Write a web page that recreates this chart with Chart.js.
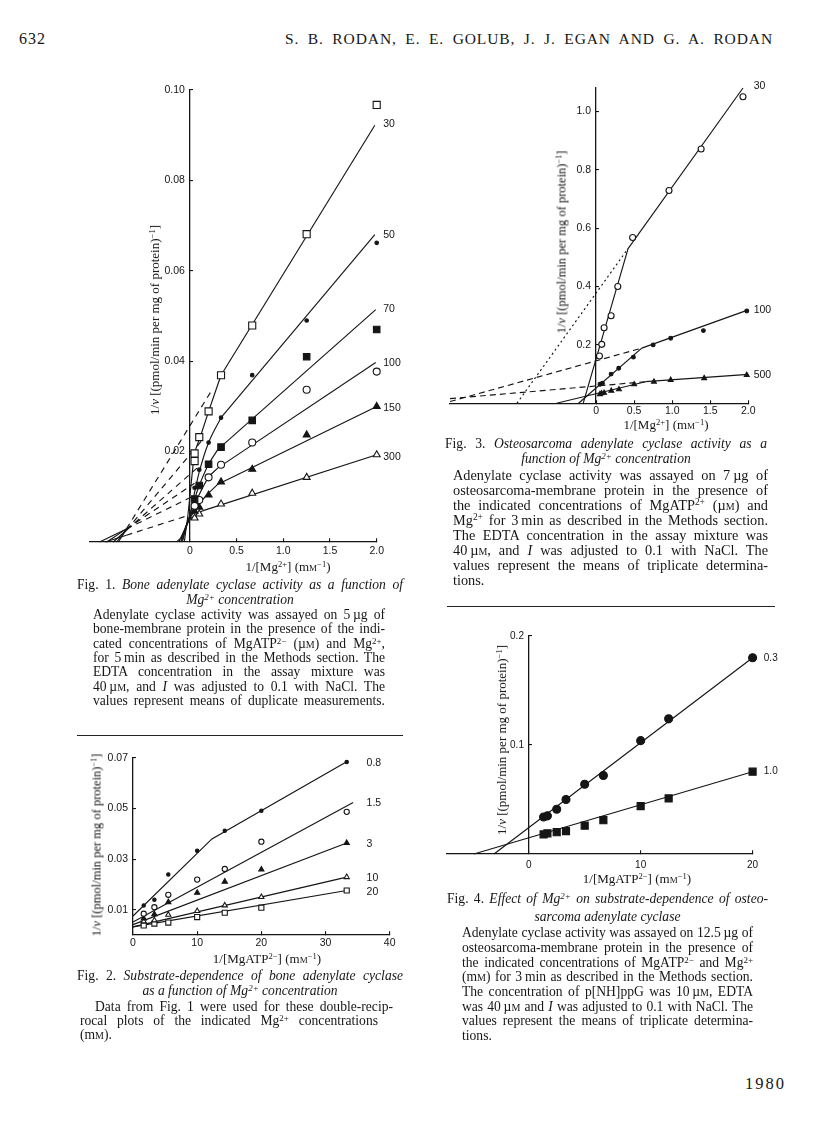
<!DOCTYPE html>
<html>
<head>
<meta charset="utf-8">
<title>Rodan et al. 1980, p. 632</title>
<script src="https://cdn.jsdelivr.net/npm/chart.js@4.4.1/dist/chart.umd.min.js"></script>
<style>
html, body { margin: 0; padding: 0; background: #fff; }
body { width: 816px; height: 1136px; position: relative; overflow: hidden;
       font-family: "Liberation Serif", "Times New Roman", serif; color: #161616; }
.t  { position: absolute; white-space: nowrap; font-size: 13.6px; line-height: 15px; }
.j  { text-align: justify; text-align-last: justify; }
.c  { text-align: center; }
.sp { font-size: 0.66em; position: relative; top: -0.5em; }
.sc { font-variant: small-caps; }
.yl { position: absolute; white-space: nowrap; font-size: 13px; color: #111; transform: translate(-50%, -50%) rotate(-90deg); }
.xl { position: absolute; white-space: nowrap; font-size: 13px; transform: translate(-50%, -50%); }
.rule { position: absolute; height: 0; border-top: 1.3px solid #222; }
.big { font-size: 14.3px; }
canvas { position: absolute; }
</style>
</head>
<body>

<!-- ── PAGE HEADER ─────────────────────────────────────────────────────── -->
<div class="t" style="left:19px;top:31px;font-size:16px;letter-spacing:1px">632</div>
<div class="t j" style="left:285px;top:31px;width:488px;font-size:15.5px;letter-spacing:0.9px">S. B. RODAN, E. E. GOLUB, J. J. EGAN AND G. A. RODAN</div>

<!-- ── FIG 1 ───────────────────────────────────────────────────────────── -->
<canvas id="fig1"></canvas>
<div class="yl" style="left:155px;top:320px">1/<i>v</i> [(pmol/min per mg of protein)<span class="sp">−1</span>]</div>
<div class="xl" style="left:288px;top:567px">1/[Mg<span class="sp">2+</span>] (m<span class="sc">m</span><span class="sp">−1</span>)</div>
<div class="t j" style="left:77px;top:577px;width:326px">Fig. 1. <i>Bone adenylate cyclase activity as a function of</i></div>
<div class="t c" style="left:77px;top:592px;width:326px"><i>Mg<span class="sp">2+</span> concentration</i></div>
<div class="t j" style="left:93px;top:607px;width:292px">Adenylate cyclase activity was assayed on 5&thinsp;µg of</div>
<div class="t j" style="left:93px;top:621px;width:292px">bone-membrane protein in the presence of the indi-</div>
<div class="t j" style="left:93px;top:636px;width:292px">cated concentrations of MgATP<span class="sp">2−</span> (µ<span class="sc">m</span>) and Mg<span class="sp">2+</span>,</div>
<div class="t j" style="left:93px;top:650px;width:292px">for 5&thinsp;min as described in the Methods section. The</div>
<div class="t j" style="left:93px;top:664px;width:292px">EDTA concentration in the assay mixture was</div>
<div class="t j" style="left:93px;top:679px;width:292px">40&thinsp;µ<span class="sc">m</span>, and <i>I</i> was adjusted to 0.1 with NaCl. The</div>
<div class="t j" style="left:93px;top:693px;width:292px">values represent means of duplicate measurements.</div>
<div class="rule" style="left:77px;top:735px;width:326px"></div>

<!-- ── FIG 2 ───────────────────────────────────────────────────────────── -->
<canvas id="fig2"></canvas>
<div class="yl" style="left:97px;top:845px;font-size:12.5px">1/<i>v</i> [(pmol/min per mg of protein)<span class="sp">−1</span>]</div>
<div class="xl" style="left:267px;top:959px">1/[MgATP<span class="sp">2−</span>] (m<span class="sc">m</span><span class="sp">−1</span>)</div>
<div class="t j" style="left:77px;top:968px;width:326px">Fig. 2. <i>Substrate-dependence of bone adenylate cyclase</i></div>
<div class="t c" style="left:77px;top:983px;width:326px"><i>as a function of Mg<span class="sp">2+</span> concentration</i></div>
<div class="t j" style="left:95px;top:999px;width:298px">Data from Fig. 1 were used for these double-recip-</div>
<div class="t j" style="left:80px;top:1013px;width:298px">rocal plots of the indicated Mg<span class="sp">2+</span> concentrations</div>
<div class="t" style="left:80px;top:1027px">(m<span class="sc">m</span>).</div>

<!-- ── FIG 3 ───────────────────────────────────────────────────────────── -->
<canvas id="fig3"></canvas>
<div class="yl" style="left:562px;top:242px;font-size:12.5px">1/<i>v</i> [(pmol/min per mg of protein)<span class="sp">−1</span>]</div>
<div class="xl" style="left:666px;top:425px">1/[Mg<span class="sp">2+</span>] (m<span class="sc">m</span><span class="sp">−1</span>)</div>
<div class="t j" style="left:445px;top:436px;width:322px">Fig. 3. <i>Osteosarcoma adenylate cyclase activity as a</i></div>
<div class="t c" style="left:445px;top:451px;width:322px"><i>function of Mg<span class="sp">2+</span> concentration</i></div>
<div class="t j big" style="left:453px;top:468px;width:315px">Adenylate cyclase activity was assayed on 7&thinsp;µg of</div>
<div class="t j big" style="left:453px;top:483px;width:315px">osteosarcoma-membrane protein in the presence of</div>
<div class="t j big" style="left:453px;top:498px;width:315px">the indicated concentrations of MgATP<span class="sp">2+</span> (µ<span class="sc">m</span>) and</div>
<div class="t j big" style="left:453px;top:513px;width:315px">Mg<span class="sp">2+</span> for 3&thinsp;min as described in the Methods section.</div>
<div class="t j big" style="left:453px;top:528px;width:315px">The EDTA concentration in the assay mixture was</div>
<div class="t j big" style="left:453px;top:543px;width:315px">40&thinsp;µ<span class="sc">m</span>, and <i>I</i> was adjusted to 0.1 with NaCl. The</div>
<div class="t j big" style="left:453px;top:558px;width:315px">values represent the means of triplicate determina-</div>
<div class="t big" style="left:453px;top:573px">tions.</div>
<div class="rule" style="left:447px;top:606px;width:328px"></div>

<!-- ── FIG 4 ───────────────────────────────────────────────────────────── -->
<canvas id="fig4"></canvas>
<div class="yl" style="left:502px;top:740px">1/<i>v</i> [(pmol/min per mg of protein)<span class="sp">−1</span>]</div>
<div class="xl" style="left:637px;top:879px">1/[MgATP<span class="sp">2−</span>] (m<span class="sc">m</span><span class="sp">−1</span>)</div>
<div class="t j" style="left:447px;top:891px;width:321px">Fig. 4. <i>Effect of Mg<span class="sp">2+</span> on substrate-dependence of osteo-</i></div>
<div class="t c" style="left:447px;top:909px;width:321px"><i>sarcoma adenylate cyclase</i></div>
<div class="t j" style="left:462px;top:925px;width:291px">Adenylate cyclase activity was assayed on 12.5&thinsp;µg of</div>
<div class="t j" style="left:462px;top:940px;width:291px">osteosarcoma-membrane protein in the presence of</div>
<div class="t j" style="left:462px;top:955px;width:291px">the indicated concentrations of MgATP<span class="sp">2−</span> and Mg<span class="sp">2+</span></div>
<div class="t j" style="left:462px;top:969px;width:291px">(m<span class="sc">m</span>) for 3&thinsp;min as described in the Methods section.</div>
<div class="t j" style="left:462px;top:984px;width:291px">The concentration of p[NH]ppG was 10&thinsp;µ<span class="sc">m</span>, EDTA</div>
<div class="t j" style="left:462px;top:999px;width:291px">was 40&thinsp;µ<span class="sc">m</span> and <i>I</i> was adjusted to 0.1 with NaCl. The</div>
<div class="t j" style="left:462px;top:1013px;width:291px">values represent the means of triplicate determina-</div>
<div class="t" style="left:462px;top:1028px">tions.</div>

<div class="t" style="left:745px;top:1076px;font-size:16.5px;letter-spacing:2px">1980</div>

<script>
// ── FIG 1 DATA: bone, 1/v vs 1/[Mg2+], one series per MgATP (µM) ─────────────
const f1Names = ['30', '50', '70', '100', '150', '300'];
const f1Points = [
  [[0.05,0.0179],[0.05,0.0196],[0.1,0.0232],[0.2,0.0289],[0.333,0.0369],[0.667,0.0479],[1.25,0.0681],[2.0,0.0967]],
  [[0.05,0.012],[0.1,0.016],[0.2,0.022],[0.333,0.0275],[0.667,0.0369],[1.25,0.049],[2.0,0.0662]],
  [[0.05,0.0095],[0.1,0.0125],[0.2,0.0172],[0.333,0.021],[0.667,0.0269],[1.25,0.041],[2.0,0.047]],
  [[0.05,0.008],[0.1,0.0093],[0.2,0.0143],[0.333,0.0171],[0.667,0.022],[1.25,0.0337],[2.0,0.0377]],
  [[0.05,0.0068],[0.1,0.0077],[0.2,0.0104],[0.333,0.0133],[0.667,0.0161],[1.25,0.0237],[2.0,0.030]],
  [[0.05,0.0053],[0.1,0.0062],[0.333,0.0084],[0.667,0.0108],[1.25,0.0143],[2.0,0.0193]]
];
// straight fitted part
const f1Fit = [
  [[0.333,0.0369],[1.98,0.0922]],
  [[0.333,0.0275],[1.98,0.068]],
  [[0.3,0.0205],[1.99,0.0514]],
  [[0.3,0.0164],[1.99,0.0397]],
  [[0.3,0.0128],[2.0,0.030]],
  [[0.15,0.007],[2.0,0.0193]]
];
// curved part near the origin
const f1Curve = [
  [[-0.14,0],[-0.036,0.0038],[0.018,0.0139],[0.046,0.019],[0.107,0.023],[0.2,0.0289],[0.333,0.0369]],
  [[-0.12,0],[-0.036,0.0038],[0.0,0.006],[0.05,0.011],[0.1,0.0155],[0.2,0.022],[0.333,0.0275]],
  [[-0.1,0],[-0.036,0.0038],[0.0,0.006],[0.05,0.0095],[0.1,0.0125],[0.2,0.0172],[0.3,0.0205]],
  [[-0.09,0],[-0.036,0.0038],[0.0,0.0055],[0.05,0.008],[0.1,0.0105],[0.2,0.0143],[0.3,0.0164]],
  [[-0.08,0],[-0.036,0.0035],[0.0,0.0052],[0.05,0.007],[0.1,0.0085],[0.2,0.0108],[0.3,0.0128]],
  [[-0.06,0],[-0.036,0.0035],[0.0,0.005],[0.05,0.0057],[0.1,0.0065],[0.15,0.007]]
];
// dashed extrapolations to the common point, and the solid tails past it
const f1Dash = [
  [[-0.68,0.0029],[0.22,0.0331]],
  [[-0.68,0.0026],[0.15,0.023]],
  [[-0.68,0.0026],[0.1,0.0168]],
  [[-0.68,0.0029],[0.05,0.013]],
  [[-0.68,0.0029],[0.03,0.0101]],
  [[-0.68,0.0015],[0.0,0.006]]
];
const f1Tail = [
  [[-0.766,0],[-0.68,0.0029]],
  [[-0.786,0],[-0.68,0.0026]],
  [[-0.822,0],[-0.68,0.0026]],
  [[-0.89,0],[-0.68,0.0029]],
  [[-0.967,0],[-0.68,0.0029]],
  [[-0.906,0],[-0.68,0.0015]]
];
const f1LabelY = [0.0925, 0.068, 0.0515, 0.0396, 0.0296, 0.0188];
const f1XTicks = [0, 0.5, 1.0, 1.5, 2.0];
const f1YTicks = [0.02, 0.04, 0.06, 0.08, 0.10];

// ── FIG 2 DATA: bone, 1/v vs 1/[MgATP], one series per Mg2+ (mM) ─────────────
const f2Names = ['0.8', '1.5', '3', '10', '20'];
const f2Points = [
  [[1.67,0.0117],[3.33,0.0139],[5.5,0.0239],[10,0.0333],[14.3,0.0412],[20,0.0491],[33.3,0.0684]],
  [[1.67,0.0084],[3.33,0.011],[5.5,0.0159],[10,0.0219],[14.3,0.0261],[20,0.0369],[33.3,0.0487]],
  [[1.67,0.0065],[3.33,0.0082],[5.5,0.013],[10,0.0167],[14.3,0.0211],[20,0.0259],[33.3,0.0364]],
  [[1.67,0.0054],[3.33,0.0058],[5.5,0.008],[10,0.0095],[14.3,0.0117],[20,0.015],[33.3,0.0229]],
  [[1.67,0.0038],[3.33,0.0045],[5.5,0.0049],[10,0.0071],[14.3,0.0088],[20,0.0108],[33.3,0.0176]]
];
const f2Fit = [
  [[0,0.0075],[12.3,0.038],[33.5,0.0688]],
  [[0,0.0051],[34.3,0.0524]],
  [[0,0.0041],[33.3,0.0364]],
  [[0,0.0032],[33.3,0.0229]],
  [[0,0.0032],[33.3,0.0176]]
];
const f2LabelY = [0.068, 0.0522, 0.036, 0.0225, 0.017];
const f2XTicks = [0, 10, 20, 30, 40];
const f2YTicks = [0.01, 0.03, 0.05, 0.07];

// ── FIG 3 DATA: osteosarcoma, 1/v vs 1/[Mg2+], MgATP (µM) ────────────────────
const f3Names = ['30', '100', '500'];
const f3Points = [
  [[0.044,0.162],[0.074,0.202],[0.105,0.259],[0.197,0.30],[0.285,0.40],[0.48,0.568],[0.958,0.729],[1.38,0.871],[1.93,1.05]],
  [[0.05,0.065],[0.083,0.069],[0.197,0.10],[0.297,0.12],[0.49,0.158],[0.75,0.20],[0.98,0.223],[1.41,0.249],[1.98,0.316]],
  [[0.05,0.031],[0.07,0.034],[0.105,0.036],[0.2,0.043],[0.3,0.048],[0.5,0.065],[0.76,0.074],[0.98,0.08],[1.42,0.086],[1.98,0.097]]
];
const f3Steep = [
  [[-0.17,0],[0.42,0.53]],
  [[-0.23,0],[0.6,0.189]],
  [[-0.52,0],[0.65,0.074]]
];
const f3Upper = [
  [[0.42,0.53],[1.93,1.08]],
  [[0.6,0.189],[2.0,0.32]],
  [[0.65,0.074],[2.0,0.099]]
];
const f3Extra = [
  [[-1.04,0],[0.42,0.53]],
  [[-1.92,0.006],[0.6,0.189]],
  [[-1.92,0.016],[0.65,0.074]]
];
const f3LabelY = [1.085, 0.32, 0.095];
const f3XTicks = [0, 0.5, 1.0, 1.5, 2.0];
const f3YTicks = [0.2, 0.4, 0.6, 0.8, 1.0];

// ── FIG 4 DATA: osteosarcoma, 1/v vs 1/[MgATP], Mg2+ (mM) ────────────────────
const f4Names = ['0.3', '1.0'];
const f4X = [1.33, 1.67, 2.5, 3.33, 5, 6.67, 10, 12.5, 20];
const f4Y03 = [0.034, 0.035, 0.041, 0.050, 0.064, 0.072, 0.104, 0.124, 0.180];
const f4Y10 = [0.018, 0.019, 0.020, 0.021, 0.026, 0.031, 0.044, 0.051, 0.0755];
const f4Fit = [
  [[-3.1,0],[20,0.180]],
  [[-4.9,0],[20,0.0755]]
];
const f4LabelY = [0.18, 0.076];
const f4XTicks = [0, 10, 20];
const f4YTicks = [0.1, 0.2];

// ── HELPERS ───────────────────────────────────────────────────────────────────
const INK = '#151515';
Chart.defaults.font.family = '"Liberation Sans", Arial, sans-serif';
Chart.defaults.color = INK;

const xy = arr => arr.map(p => ({ x: p[0], y: p[1] }));

function marks(arr, st) {
  return { data: xy(arr), showLine: false, order: 0, clip: false,
    pointStyle: st.shape, pointRadius: st.r, pointHoverRadius: st.r,
    pointBackgroundColor: st.open ? '#fff' : INK, pointBorderColor: INK, pointBorderWidth: 1.1 };
}

function line(arr, dash, smooth) {
  return { data: xy(arr), showLine: true, order: 1, clip: false,
    pointRadius: 0, pointHoverRadius: 0, borderColor: INK, borderWidth: 1.15,
    borderDash: dash || [], tension: smooth ? 0.4 : 0,
    cubicInterpolationMode: smooth ? 'monotone' : 'default' };
}

// draws the series names at the right end of each line
const seriesLabels = {
  id: 'seriesLabels',
  afterDatasetsDraw(chart, args, opts) {
    const { ctx, scales: { x, y } } = chart;
    ctx.save();
    ctx.font = (opts.size || 10.5) + 'px "Liberation Sans", Arial, sans-serif';
    ctx.fillStyle = INK;
    ctx.textBaseline = 'middle';
    opts.names.forEach((t, i) => ctx.fillText(t, x.getPixelForValue(opts.x), y.getPixelForValue(opts.y[i])));
    ctx.restore();
  }
};

// area = target plot box in page pixels, m = margins kept around it
function makeChart(id, area, m, cfg) {
  const cv = document.getElementById(id);
  const w = Math.round(area.r - area.l + m.l + m.r);
  const h = Math.round(area.b - area.t + m.t + m.b);
  cv.width = w; cv.height = h;
  cv.style.width = w + 'px'; cv.style.height = h + 'px';
  cv.style.left = (area.l - m.l) + 'px';
  cv.style.top = (area.t - m.t) + 'px';
  const axis = (ticks, fmt, pos, pad, size) => ({
    type: 'linear', position: pos,
    afterBuildTicks: s => { s.ticks = ticks.map(v => ({ value: v })); },
    border: { display: true, color: INK, width: 1.3 },
    grid: { display: true, drawOnChartArea: false, drawTicks: true, tickLength: -4, color: INK, lineWidth: 1.1 },
    ticks: { padding: pad, autoSkip: false, maxRotation: 0, color: INK,
             font: { size: size }, callback: v => fmt(v) }
  });
  const xs = axis(cfg.xTicks, cfg.xFmt, { y: 0 }, cfg.xPad || 6, cfg.font || 10.5);
  const ys = axis(cfg.yTicks, v => cfg.yFmt(v) + ' \u2009', { x: 0 }, 4, cfg.font || 10.5);
  Object.assign(xs, { min: cfg.xr[0], max: cfg.xr[1] });
  Object.assign(ys, { min: cfg.yr[0], max: cfg.yr[1] });
  return new Chart(cv, {
    type: 'scatter',
    data: { datasets: cfg.datasets },
    options: {
      responsive: false, animation: false, devicePixelRatio: 1,
      layout: { padding: { left: m.l, top: m.t, right: w - m.l - (area.r - area.l), bottom: h - m.t - (area.b - area.t) } },
      plugins: { legend: { display: false }, tooltip: { enabled: false },
                 seriesLabels: { names: cfg.names, x: cfg.labelX, y: cfg.labelY, size: cfg.font } },
      scales: { x: xs, y: ys }
    },
    plugins: [seriesLabels]
  });
}

const one = v => v === 0 ? '0' : v.toFixed(1);

// ── FIG 1 ─────────────────────────────────────────────────────────────────────
const f1Style = [
  { shape: 'rect', r: 5, open: true },
  { shape: 'circle', r: 1.8 },
  { shape: 'rect', r: 4.6 },
  { shape: 'circle', r: 3.5, open: true },
  { shape: 'triangle', r: 4 },
  { shape: 'triangle', r: 4, open: true }
];
const f1Sets = [];
f1Names.forEach((n, i) => {
  f1Sets.push(marks(f1Points[i], f1Style[i]));
  f1Sets.push(line(f1Fit[i]));
  f1Sets.push(line(f1Curve[i], null, true));
  f1Sets.push(line(f1Dash[i], [6, 5]));
  f1Sets.push(line(f1Tail[i]));
});
makeChart('fig1', { l: 90, t: 90, r: 376.7, b: 542 }, { l: 10, t: 14, r: 42, b: 22 }, {
  xr: [-1.07, 2.0], yr: [0, 0.10], xTicks: f1XTicks, yTicks: f1YTicks,
  xFmt: one, yFmt: v => v.toFixed(2), xPad: 7,
  datasets: f1Sets, names: f1Names, labelX: 2.07, labelY: f1LabelY
});

// ── FIG 2 ─────────────────────────────────────────────────────────────────────
const f2Style = [
  { shape: 'circle', r: 1.7 },
  { shape: 'circle', r: 2.6, open: true },
  { shape: 'triangle', r: 3 },
  { shape: 'triangle', r: 3, open: true },
  { shape: 'rect', r: 3.6, open: true }
];
const f2Sets = [];
f2Names.forEach((n, i) => {
  f2Sets.push(marks(f2Points[i], f2Style[i]));
  f2Sets.push(line(f2Fit[i]));
});
makeChart('fig2', { l: 133.3, t: 758, r: 390, b: 935 }, { l: 40, t: 14, r: 22, b: 22 }, {
  xr: [0, 40], yr: [0, 0.07], xTicks: f2XTicks, yTicks: f2YTicks,
  xFmt: v => String(v), yFmt: v => v.toFixed(2), xPad: 6,
  datasets: f2Sets, names: f2Names, labelX: 36.4, labelY: f2LabelY
});

// ── FIG 3 ─────────────────────────────────────────────────────────────────────
const f3Style = [
  { shape: 'circle', r: 3, open: true },
  { shape: 'circle', r: 1.9 },
  { shape: 'triangle', r: 2.8 }
];
const f3Sets = [];
f3Names.forEach((n, i) => {
  f3Sets.push(marks(f3Points[i], f3Style[i]));
  f3Sets.push(line(f3Steep[i]));
  f3Sets.push(line(f3Upper[i]));
  f3Sets.push(line(f3Extra[i], i === 0 ? [2, 3] : [6, 4]));
});
makeChart('fig3', { l: 450, t: 88, r: 748.3, b: 403.3 }, { l: 10, t: 14, r: 32, b: 22 }, {
  xr: [-1.92, 2.0], yr: [0, 1.08], xTicks: f3XTicks, yTicks: f3YTicks,
  xFmt: one, yFmt: v => v.toFixed(1), xPad: 6,
  datasets: f3Sets, names: f3Names, labelX: 2.07, labelY: f3LabelY
});

// ── FIG 4 ─────────────────────────────────────────────────────────────────────
const f4Sets = [
  marks(f4X.map((x, i) => [x, f4Y03[i]]), { shape: 'circle', r: 4 }),
  marks(f4X.map((x, i) => [x, f4Y10[i]]), { shape: 'rect', r: 5 }),
  line(f4Fit[0]),
  line(f4Fit[1])
];
makeChart('fig4', { l: 446.7, t: 636, r: 752.3, b: 854 }, { l: 10, t: 14, r: 32, b: 22 }, {
  xr: [-7.3, 20], yr: [0, 0.2], xTicks: f4XTicks, yTicks: f4YTicks,
  xFmt: v => String(v), yFmt: v => v.toFixed(1), xPad: 9, font: 10,
  datasets: f4Sets, names: f4Names, labelX: 21.0, labelY: f4LabelY
});
</script>
</body>
</html>
